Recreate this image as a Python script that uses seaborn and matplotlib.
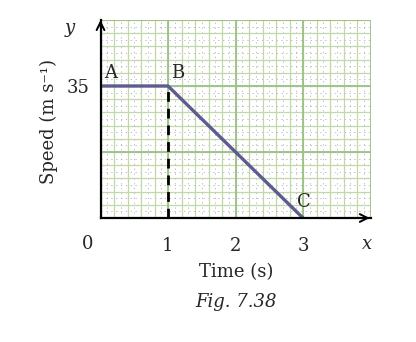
import matplotlib
matplotlib.use("Agg")
import matplotlib.pyplot as plt
import seaborn as sns
import numpy as np
import pandas as pd

# data
time_s = [0, 1, 3]
speed = [35, 35, 0]
point_labels = ["A", "B", "C"]
x_ticks = [1, 2, 3]
y_ticks = [35]

sns.set_style("white")
plt.rcParams['font.family'] = ['DejaVu Serif', 'Liberation Serif']
FS = 13

fig = plt.figure(figsize=(4.16, 3.42), dpi=100)
ax = fig.add_axes([100.5/416, (342-218)/342, 270/416, 198/342])
ax.set_xlim(0, 4)
ax.set_ylim(0, 52.5)

# graph-paper grid
for xv in np.arange(0.1, 4, 0.2):
    ax.axvline(xv, color='#a8a8a8', lw=0.5, ls=(0, (2, 5)), zorder=0)
for yv in np.arange(1.75, 52.5, 3.5):
    ax.axhline(yv, color='#a8a8a8', lw=0.5, ls=(0, (2, 5)), zorder=0)
for xv in np.arange(0, 4.001, 0.2):
    ax.axvline(xv, color='#c2d8a8', lw=0.9, zorder=1)
for yv in np.arange(0, 52.51, 3.5):
    ax.axhline(yv, color='#c2d8a8', lw=0.9, zorder=1)
for xv in [1, 2, 3, 4]:
    ax.axvline(xv, color='#9cc087', lw=1.3, zorder=1)
for yv in [17.5, 35, 52.5]:
    ax.axhline(yv, color='#9cc087', lw=1.3, zorder=1)

df = pd.DataFrame({"t": time_s, "v": speed})
sns.lineplot(data=df, x="t", y="v", ax=ax, color='#5c5c90', lw=2.4, zorder=5)

ax.plot([1, 1], [0, 35], color='black', lw=2.0, ls=(0, (3.5, 2.5)), zorder=6)

for sp in ['top', 'right']:
    ax.spines[sp].set_visible(False)
for sp in ['left', 'bottom']:
    ax.spines[sp].set_color('black')
    ax.spines[sp].set_linewidth(1.6)
    ax.spines[sp].set_zorder(7)

ax.set_xticks(x_ticks)
ax.set_xticklabels([str(v) for v in x_ticks], fontsize=FS)
ax.set_yticks(y_ticks)
ax.set_yticklabels([str(v) for v in y_ticks], fontsize=FS)
ax.tick_params(axis='x', length=5, width=1.2, direction='out', pad=9, color='black')
ax.tick_params(axis='y', length=6, width=1.2, direction='out', pad=2, color='black')
ax.set_xlabel("")
ax.set_ylabel("")

# arrows
ax.annotate("", xy=(4.03, 0), xytext=(3.9, 0), xycoords='data',
            arrowprops=dict(arrowstyle='->', color='black', lw=1.4,
                            mutation_scale=14), annotation_clip=False)
ax.annotate("", xy=(0, 53.2), xytext=(0, 50), xycoords='data',
            arrowprops=dict(arrowstyle='->', color='black', lw=1.4,
                            mutation_scale=14), annotation_clip=False)

# labels
ax.text(-0.19, -0.13, "0", transform=ax.get_xaxis_transform(), fontsize=FS,
        ha='center', va='center')
ax.text(3.95, -0.13, "x", transform=ax.get_xaxis_transform(), fontsize=FS,
        ha='center', va='center', style='italic')
ax.text(-0.45, 50.5, "y", fontsize=FS, ha='center', va='center', style='italic')
pos = [(0.15, 38.5), (1.15, 38.5), (3.02, 4.2)]
for (px, py), lab in zip(pos, point_labels):
    ax.text(px, py, lab, fontsize=FS, ha='center', va='center', zorder=8)

fig.text(236/416, 1 - 272/342, "Time (s)", fontsize=FS, ha='center', va='center')
fig.text(236/416, 1 - 302/342, "Fig. 7.38", fontsize=FS, ha='center', va='center',
         style='italic')
fig.text(49/416, 1 - 122/342, "Speed (m s\u207b\u00b9)", fontsize=FS, ha='center',
         va='center', rotation=90)

fig.savefig("out.png", dpi=100)
